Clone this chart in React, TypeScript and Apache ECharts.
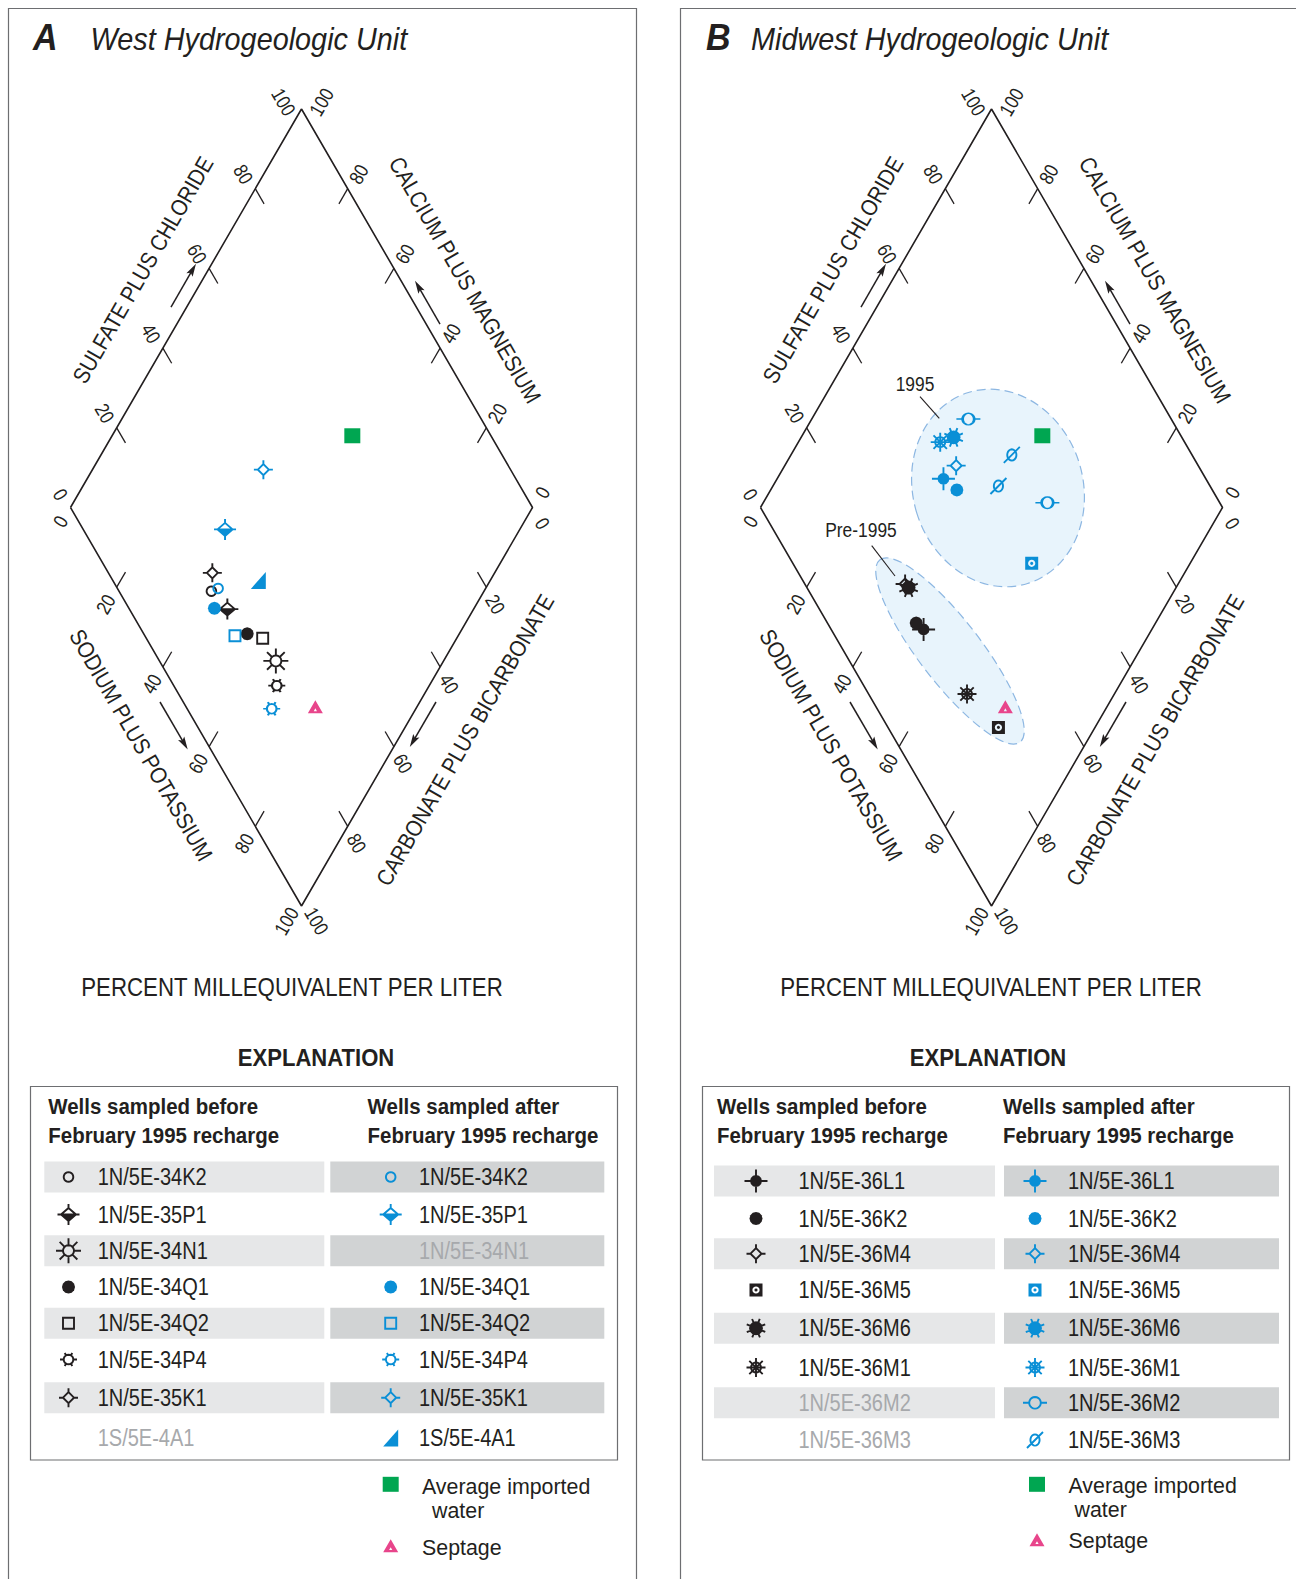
import React, { useEffect, useRef } from 'react';
import * as echarts from 'echarts';

// ---------------- colours ----------------
const INK = '#231f20';
const BLUE = '#0a8fd6';
const GREEN = '#00a651';
const PINK = '#e8458b';
const GRAY_TXT = '#a7a9ac';
const BAND_L = '#e6e7e8';
const BAND_R = '#d1d3d4';
const FRAME = '#6d6e71';
const FONT = "'Liberation Sans', Arial, sans-serif";

// ---------------- data ----------------
// every point is [Na+K percent, SO4+Cl percent] (percent milliequivalent per liter)
const tickValues = [0, 20, 40, 60, 80, 100];
const diamondCorners = [[0, 0], [0, 100], [100, 100], [100, 0], [0, 0]];

const westWells = ['1N/5E-34K2', '1N/5E-35P1', '1N/5E-34N1', '1N/5E-34Q1', '1N/5E-34Q2', '1N/5E-34P4', '1N/5E-35K1', '1S/5E-4A1'];
const westBefore: number[][][] = [
  [[41, 20]], [[46.7, 21.2]], [[63.7, 25.2]], [[54.1, 22.4]], [[58, 25.2]], [[67, 22.3]], [[38.9, 22.5]], [],
];
const westAfter: number[][][] = [
  [[42.1, 21.8]], [[36.2, 30.7]], [], [[43.8, 18.5]], [[51.7, 19.5]], [[68.8, 18.3]], [[37, 46.5]], [[49.8, 31.5]],
];

const midwestWells = ['1N/5E-36L1', '1N/5E-36K2', '1N/5E-36M4', '1N/5E-36M5', '1N/5E-36M6', '1N/5E-36M1', '1N/5E-36M2', '1N/5E-36M3'];
const midwestBefore: number[][][] = [
  [[50.6, 20]], [[48.2, 19.2]], [[40.9, 21.7]], [[79.1, 23.9]], [[42.1, 22]], [[68.1, 21.3]], [], [],
];
const midwestAfter: number[][][] = [
  [[36, 43.2]], [[40.3, 44.7]], [[37.1, 47.6]], [[65.7, 51.7]], [[33, 50.6]], [[30.7, 47.1]],
  [[33.9, 56.1], [61.5, 62.7]], [[47.8, 61], [48.8, 54.2]],
];

const importedWater = [[52, 70]];
const septage = [[78, 28]];

// symbol style per legend row (style only)
const westSymbols = ['openCircle', 'diamondHalf', 'sun', 'filledCircle', 'openSquare', 'ticksCircle', 'diamondWhisk', 'rightTri'];
const midwestSymbols = ['starCircle', 'filledCircle', 'diamondWhisk', 'squareDot', 'spikyCircle', 'asteriskCircle', 'circleHWhisk', 'slashCircle'];
const westBeforeShown = [true, true, true, true, true, true, true, false];
const westAfterShown = [true, true, false, true, true, true, true, true];
const midwestBeforeShown = [true, true, true, true, true, true, false, false];
const midwestAfterShown = [true, true, true, true, true, true, true, true];

// ---------------- symbol shapes ----------------
type Part = { pts: number[][]; close: boolean };
type SymDef = { d: string; w: number; h: number; ox: number; oy: number; fill: boolean; stroke: boolean };
const fx = (n: number) => +n.toFixed(2);
function ring(r: number, rev = false, n = 20, rx?: number): Part {
  const pts: number[][] = [];
  for (let i = 0; i < n; i++) {
    const t = (rev ? -1 : 1) * (i * 2 * Math.PI) / n;
    pts.push([(rx ?? r) * Math.cos(t), r * Math.sin(t)]);
  }
  return { pts, close: true };
}
const seg = (x1: number, y1: number, x2: number, y2: number): Part => ({ pts: [[x1, y1], [x2, y2]], close: false });
function rays(r1: number, r2: number, angles: number[]): Part[] {
  return angles.map((deg) => {
    const t = (deg * Math.PI) / 180;
    return seg(r1 * Math.cos(t), r1 * Math.sin(t), r2 * Math.cos(t), r2 * Math.sin(t));
  });
}
function build(parts: Part[], fill: boolean, stroke: boolean): SymDef {
  let minX = Infinity, minY = Infinity, maxX = -Infinity, maxY = -Infinity;
  parts.forEach((p) => p.pts.forEach(([x, y]) => {
    minX = Math.min(minX, x); minY = Math.min(minY, y); maxX = Math.max(maxX, x); maxY = Math.max(maxY, y);
  }));
  const d = parts.map((p) => 'M' + p.pts.map((q) => `${fx(q[0] - minX)} ${fx(q[1] - minY)}`).join(' L') + (p.close ? ' Z' : '')).join(' ');
  return { d, w: maxX - minX, h: maxY - minY, ox: -minX, oy: -minY, fill, stroke };
}

const SYMBOLS: Record<string, SymDef> = {
  openCircle: build([ring(4.8)], false, true),
  diamondHalf: build([
    { pts: [[-7.5, 0], [7.5, 0], [0, 6.5]], close: true },
    seg(-7.5, 0, 0, -6.5), seg(0, -6.5, 7.5, 0), seg(-11, 0, 11, 0), seg(0, -10.5, 0, -6.5), seg(0, 6.5, 0, 10.5),
  ], true, true),
  sun: build([ring(5.5), ...rays(5.5, 12.5, [0, 45, 90, 135, 180, 225, 270, 315])], false, true),
  filledCircle: build([ring(6.5, false, 12)], true, false),
  openSquare: build([{ pts: [[-5.5, -5.5], [5.5, -5.5], [5.5, 5.5], [-5.5, 5.5]], close: true }], false, true),
  ticksCircle: build([ring(4.8), seg(-8.5, 0, -4.8, 0), seg(4.8, 0, 8.5, 0), ...rays(4.8, 7.6, [60, 120, 240, 300])], false, true),
  diamondWhisk: build([
    { pts: [[-5.5, 0], [0, -5.5], [5.5, 0], [0, 5.5]], close: true },
    seg(-9.5, 0, -5.5, 0), seg(5.5, 0, 9.5, 0), seg(0, -9.5, 0, -5.5), seg(0, 5.5, 0, 9.5),
  ], false, true),
  rightTri: build([{ pts: [[-7.5, 8.5], [7.5, 8.5], [7.5, -8.5]], close: true }], true, false),
  square: build([{ pts: [[-8, -7.5], [8, -7.5], [8, 7.5], [-8, 7.5]], close: true }], true, false),
  septage: build([
    { pts: [[-7.5, 6.5], [0, -6.5], [7.5, 6.5]], close: true },
    { pts: [[-1.6, 4.4], [1.6, 4.4], [0, 1.6]], close: true },
  ], true, false),
  starCircle: build([ring(5, false, 12), seg(-11.5, 0, 11.5, 0), seg(0, -11.5, 0, 11.5)], true, true),
  squareDot: build([
    { pts: [[-6.5, -6.5], [6.5, -6.5], [6.5, 6.5], [-6.5, 6.5]], close: true },
    ring(3.6, true, 16), ring(1.6, false, 8),
  ], true, false),
  spikyCircle: build([ring(6, false, 12), ...rays(6, 10, [22, 67, 112, 157, 202, 247, 292, 337])], true, true),
  asteriskCircle: build([ring(5), seg(-9.5, 0, 9.5, 0), seg(0, -9.5, 0, 9.5), seg(-6.7, -6.7, 6.7, 6.7), seg(-6.7, 6.7, 6.7, -6.7)], false, true),
  circleHWhisk: build([ring(5.8), seg(-12, 0, -5.8, 0), seg(5.8, 0, 12, 0)], false, true),
  slashCircle: build([ring(5.6, false, 20, 4.6), seg(-8, 8, 8, -8)], false, true),
};
Object.keys(SYMBOLS).forEach((k) => {
  echarts.graphic.registerShape('sym_' + k, echarts.graphic.extendPath(SYMBOLS[k].d, {}) as any);
});

// ---------------- geometry ----------------
const GRID_TOP = 109;
const GRID_W = 462;
const GRID_H = 797;
const PANEL_LEFT = [70.5, 760.5];
const TICK = 3.8;
const SYM_LW = 1.9;
// [Na+K, SO4+Cl] -> diamond cartesian (u = a + c, v = a - c)
const toUV = (p: number[]) => [p[1] + p[0], p[1] - p[0]];
function px(panel: number, p: number[]) {
  const [u, v] = toUV(p);
  return [PANEL_LEFT[panel] + (u / 200) * GRID_W, GRID_TOP + ((100 - v) / 200) * GRID_H];
}

function txt(text: string, x: number, y: number, o: any = {}) {
  return {
    type: 'text', x, y, rotation: o.rot || 0, scaleX: o.sx ?? 0.87, z: 20, silent: true,
    style: {
      text, x: 0, y: 0, fontSize: o.size || 20, fontWeight: o.weight || 'normal', fontStyle: o.style || 'normal',
      fontFamily: FONT, fill: o.color || INK,
      align: o.align || 'center', verticalAlign: 'middle', textAlign: o.align || 'center', textVerticalAlign: 'middle',
    },
  };
}
function arrow(x1: number, y1: number, x2: number, y2: number) {
  const dx = x2 - x1, dy = y2 - y1, L = Math.hypot(dx, dy), ux = dx / L, uy = dy / L, nx = -uy, ny = ux;
  const hl = 13, hw = 3.6;
  const bx = x2 - ux * hl, by = y2 - uy * hl;
  return [
    { type: 'line', z: 20, silent: true, shape: { x1, y1, x2: x2 - ux * 8, y2: y2 - uy * 8 }, style: { stroke: INK, lineWidth: 1.5 } },
    {
      type: 'polygon', z: 20, silent: true,
      shape: { points: [[x2, y2], [bx + nx * hw, by + ny * hw], [x2 - ux * hl * 0.8, y2 - uy * hl * 0.8], [bx - nx * hw, by - ny * hw]] },
      style: { fill: INK },
    },
  ];
}
function legendSym(key: string, cx: number, cy: number, color: string) {
  const s = SYMBOLS[key];
  return {
    type: 'sym_' + key, x: cx - s.ox, y: cy - s.oy, z: 20, silent: true,
    style: { fill: s.fill ? color : 'none', stroke: s.stroke ? color : 'none', lineWidth: SYM_LW },
  };
}
function wellSeries(panel: number, name: string, pts: number[][], key: string, color: string) {
  const s = SYMBOLS[key];
  return {
    type: 'scatter', name, xAxisIndex: panel, yAxisIndex: panel, data: pts.map(toUV),
    symbol: 'path://' + s.d, symbolSize: [s.w, s.h], silent: true, z: 4,
    itemStyle: { color: s.fill ? color : 'transparent', borderColor: color, borderWidth: s.stroke ? SYM_LW : 0, opacity: 1 },
    emphasis: { disabled: true },
  };
}

const PANELS = [
  {
    letter: 'A', title: 'West Hydrogeologic Unit', letterX: 33, titleX: 90.6, shift: 0,
    wells: westWells, before: westBefore, after: westAfter, symbols: westSymbols,
    beforeShown: westBeforeShown, afterShown: westAfterShown,
    box: { x: 30, y: 1086.5, w: 587, h: 373.5 },
    bandL: { x: 44.3, w: 280 }, bandR: { x: 330.3, w: 274 },
    symL: 68.5, txtL: 97.7, symR: 390.7, txtR: 419, hdrL: 48.3, hdrR: 367.6,
    rows: [1177, 1214.5, 1250.7, 1287, 1323.2, 1359.5, 1397.7, 1438],
    expl: 316, percent: 292,
    sq: [390.7, 1484.3], avgX: 422, avgY: 1486, waterX: 432, waterY: 1510.5, tri: [390.7, 1545.7], sepY: 1547,
  },
  {
    letter: 'B', title: 'Midwest Hydrogeologic Unit', letterX: 706, titleX: 751, shift: 690,
    wells: midwestWells, before: midwestBefore, after: midwestAfter, symbols: midwestSymbols,
    beforeShown: midwestBeforeShown, afterShown: midwestAfterShown,
    box: { x: 702, y: 1086.5, w: 587, h: 373.5 },
    bandL: { x: 714, w: 281 }, bandR: { x: 1004, w: 275 },
    symL: 756, txtL: 798.5, symR: 1035, txtR: 1068, hdrL: 717, hdrR: 1003,
    rows: [1181, 1218.5, 1253.7, 1290, 1328.2, 1367.5, 1402.8, 1440],
    expl: 988, percent: 991,
    sq: [1037, 1484.3], avgX: 1068.5, avgY: 1485.3, waterX: 1074.5, waterY: 1509.5, tri: [1037, 1539.7], sepY: 1540.7,
  },
];

function buildOption() {
  const series: any[] = [];
  const g: any[] = [];

  // panel frames
  g.push({ type: 'polyline', z: 1, silent: true, shape: { points: [[8.5, 1579], [8.5, 8.5], [636.5, 8.5], [636.5, 1579]] }, style: { stroke: FRAME, lineWidth: 1.2, fill: 'none' } });
  g.push({ type: 'polyline', z: 1, silent: true, shape: { points: [[680.5, 1579], [680.5, 8.5], [1296, 8.5]] }, style: { stroke: FRAME, lineWidth: 1.2, fill: 'none' } });

  PANELS.forEach((P, p) => {
    const S = P.shift;
    // diamond outline
    series.push({
      type: 'line', xAxisIndex: p, yAxisIndex: p, data: diamondCorners.map(toUV), symbol: 'none',
      lineStyle: { color: INK, width: 1.6 }, silent: true, z: 3,
    });
    // ticks
    const ticks: any[] = [];
    tickValues.filter((t) => t > 0 && t < 100).forEach((t) => {
      ticks.push({ coords: [toUV([0, t]), toUV([TICK, t])] });
      ticks.push({ coords: [toUV([100 - t, 100]), toUV([100 - t, 100 - TICK])] });
      ticks.push({ coords: [toUV([t, 0]), toUV([t, TICK])] });
      ticks.push({ coords: [toUV([100, 100 - t]), toUV([100 - TICK, 100 - t])] });
    });
    series.push({
      type: 'lines', coordinateSystem: 'cartesian2d', xAxisIndex: p, yAxisIndex: p, data: ticks,
      lineStyle: { color: INK, width: 1.3, opacity: 1, curveness: 0 }, silent: true, z: 3,
    });
    // tick labels
    const TS = { size: 20, sx: 0.84 };
    tickValues.forEach((t) => {
      const lab = String(t);
      // sulfate plus chloride (upper-left edge)
      let q = px(p, [0, t]);
      let o = t === 100 ? [-18, -7] : t === 0 ? [-10, -13] : [-12, -14.5];
      g.push(txt(lab, q[0] + o[0], q[1] + o[1], { ...TS, rot: -Math.PI / 3 }));
      // calcium plus magnesium (upper-right edge)
      q = px(p, [100 - t, 100]);
      o = t === 100 ? [20, -7] : t === 0 ? [10, -15] : [11, -14.5];
      g.push(txt(lab, q[0] + o[0], q[1] + o[1], { ...TS, rot: Math.PI / 3 }));
      // sodium plus potassium (lower-left edge)
      q = px(p, [t, 0]);
      o = t === 100 ? [-15, 15] : t === 0 ? [-10, 14] : [-11, 17];
      g.push(txt(lab, q[0] + o[0], q[1] + o[1], { ...TS, rot: Math.PI / 3 }));
      // carbonate plus bicarbonate (lower-right edge)
      q = px(p, [100, 100 - t]);
      o = t === 100 ? [15, 15] : t === 0 ? [10, 16] : [9, 17];
      g.push(txt(lab, q[0] + o[0], q[1] + o[1], { ...TS, rot: -Math.PI / 3 }));
    });
    // axis titles
    g.push(txt('SULFATE PLUS CHLORIDE', 143 + S, 270, { size: 23, sx: 0.88, rot: Math.PI / 3 }));
    g.push(txt('CALCIUM PLUS MAGNESIUM', 465 + S, 280, { size: 23, sx: 0.88, rot: -Math.PI / 3 }));
    g.push(txt('SODIUM PLUS POTASSIUM', 141 + S, 745, { size: 23, sx: 0.88, rot: -Math.PI / 3 }));
    g.push(txt('CARBONATE PLUS BICARBONATE', 465 + S, 740, { size: 23, sx: 0.88, rot: Math.PI / 3 }));
    // arrows
    g.push(...arrow(171 + S, 307, 196 + S, 263.7));
    g.push(...arrow(440 + S, 324, 415 + S, 280.7));
    g.push(...arrow(160 + S, 702, 187.7 + S, 749.5));
    g.push(...arrow(436 + S, 702, 409.8 + S, 747));

    // titles
    g.push(txt(P.letter, P.letterX, 38, { size: 37, weight: 'bold', style: 'italic', sx: 0.92, align: 'left' }));
    g.push(txt(P.title, P.titleX, 39, { size: 31, style: 'italic', sx: 0.93, align: 'left' }));
    g.push(txt('PERCENT MILLEQUIVALENT PER LITER', P.percent, 988, { size: 25, sx: 0.89 }));
    g.push(txt('EXPLANATION', P.expl, 1058, { size: 24, weight: 'bold', sx: 0.92 }));

    // legend table
    g.push({ type: 'rect', z: 1, silent: true, shape: { x: P.box.x + 0.5, y: P.box.y, width: P.box.w, height: P.box.h }, style: { fill: 'none', stroke: FRAME, lineWidth: 1.2 } });
    g.push(txt('Wells sampled before', P.hdrL, 1106.7, { size: 22, weight: 'bold', sx: 0.93, align: 'left' }));
    g.push(txt('February 1995 recharge', P.hdrL, 1136, { size: 22, weight: 'bold', sx: 0.93, align: 'left' }));
    g.push(txt('Wells sampled after', P.hdrR, 1106.7, { size: 22, weight: 'bold', sx: 0.93, align: 'left' }));
    g.push(txt('February 1995 recharge', P.hdrR, 1136, { size: 22, weight: 'bold', sx: 0.93, align: 'left' }));
    P.wells.forEach((w, i) => {
      const y = P.rows[i];
      if (i % 2 === 0) {
        g.push({ type: 'rect', z: 2, silent: true, shape: { x: P.bandL.x, y: y - 15.5, width: P.bandL.w, height: 31 }, style: { fill: BAND_L } });
        g.push({ type: 'rect', z: 2, silent: true, shape: { x: P.bandR.x, y: y - 15.5, width: P.bandR.w, height: 31 }, style: { fill: BAND_R } });
      }
      const key = P.symbols[i];
      if (P.beforeShown[i]) g.push(legendSym(key, P.symL, y, INK));
      if (P.afterShown[i]) g.push(legendSym(key, P.symR, y, BLUE));
      g.push(txt(w, P.txtL, y, { size: 23, sx: 0.87, align: 'left', color: P.beforeShown[i] ? INK : GRAY_TXT }));
      g.push(txt(w, P.txtR, y, { size: 23, sx: 0.87, align: 'left', color: P.afterShown[i] ? INK : GRAY_TXT }));

      // data series
      if (P.before[i].length) series.push(wellSeries(p, w + ' before', P.before[i], key, INK));
      if (P.after[i].length) series.push(wellSeries(p, w + ' after', P.after[i], key, BLUE));
    });
    series.push(wellSeries(p, 'Average imported water', importedWater, 'square', GREEN));
    series.push(wellSeries(p, 'Septage', septage, 'septage', PINK));

    g.push(legendSym('square', P.sq[0], P.sq[1], GREEN));
    g.push(txt('Average imported', P.avgX, P.avgY, { size: 23, sx: 0.93, align: 'left' }));
    g.push(txt('water', P.waterX, P.waterY, { size: 23, sx: 0.93, align: 'left' }));
    g.push(legendSym('septage', P.tri[0], P.tri[1], PINK));
    g.push(txt('Septage', P.avgX, P.sepY, { size: 23, sx: 0.93, align: 'left' }));
  });

  // sample-group envelopes in panel B
  g.push({
    type: 'ellipse', z: 0, silent: true, x: 998, y: 488, rotation: 0.3,
    shape: { cx: 0, cy: 0, rx: 85, ry: 100 },
    style: { fill: '#e8f4fc', stroke: '#8db7e2', lineWidth: 1.2, lineDash: [9, 5] },
  });
  g.push({
    type: 'ellipse', z: 0, silent: true, x: 950, y: 651, rotation: -0.916,
    shape: { cx: 0, cy: 0, rx: 115, ry: 31 },
    style: { fill: '#e8f4fc', stroke: '#8db7e2', lineWidth: 1.2, lineDash: [9, 5] },
  });
  g.push(txt('1995', 915, 384, { size: 20, sx: 0.87 }));
  g.push({ type: 'line', z: 20, silent: true, shape: { x1: 920, y1: 396.7, x2: 939.3, y2: 418.3 }, style: { stroke: INK, lineWidth: 1.1 } });
  g.push(txt('Pre-1995', 861, 530, { size: 20, sx: 0.87 }));
  g.push({ type: 'line', z: 20, silent: true, shape: { x1: 871.7, y1: 545.7, x2: 895, y2: 576 }, style: { stroke: INK, lineWidth: 1.1 } });

  return {
    animation: false,
    backgroundColor: '#ffffff',
    grid: PANEL_LEFT.map((left) => ({ left, top: GRID_TOP, width: GRID_W, height: GRID_H, containLabel: false })),
    xAxis: [0, 1].map((i) => ({ type: 'value', gridIndex: i, min: 0, max: 200, show: false })),
    yAxis: [0, 1].map((i) => ({ type: 'value', gridIndex: i, min: -100, max: 100, show: false })),
    tooltip: { show: false },
    series,
    graphic: { elements: g },
  };
}

export default function App() {
  const ref = useRef<HTMLDivElement>(null);
  useEffect(() => {
    const chart = echarts.init(ref.current!, null, { renderer: 'svg' });
    chart.setOption(buildOption() as any);
    return () => chart.dispose();
  }, []);
  return (
    <div
      ref={ref}
      style={{ position: 'absolute', left: 0, top: 0, width: 1296, height: 1579, background: '#ffffff' }}
    />
  );
}
